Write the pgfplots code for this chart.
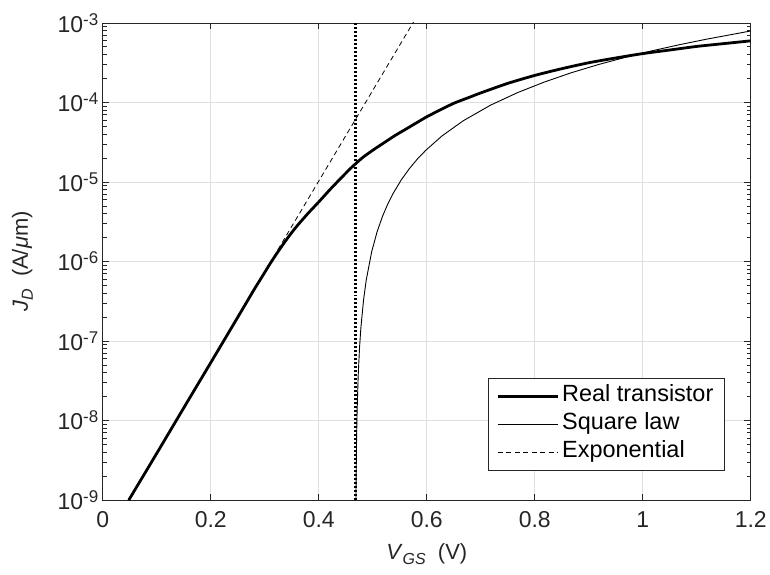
\documentclass[border=0pt]{standalone}
\usepackage{fontspec}
\setmainfont{Liberation Sans}
\usepackage{pgfplots}
\pgfplotsset{compat=1.18}
\definecolor{axgray}{RGB}{38,38,38}
\definecolor{gridgray}{RGB}{223,223,223}
\newcommand\sps[1]{\raisebox{7pt}{\fontsize{17}{17}\selectfont #1}}
\newcommand\sbs[1]{\raisebox{-5pt}{\fontsize{16}{16}\selectfont #1}}
\begin{document}
\begin{tikzpicture}
\begin{axis}[
  scale only axis, width=649pt, height=478pt,
  xmin=0, xmax=1.2, ymin=1e-9, ymax=1e-3, ymode=log,
  xtick={0,0.2,0.4,0.6,0.8,1,1.2},
  xticklabels={0,0.2,0.4,0.6,0.8,1,1.2},
  ytick={1e-9,1e-8,1e-7,1e-6,1e-5,1e-4,1e-3},
  yticklabels={10\sps{-9},10\sps{-8},10\sps{-7},10\sps{-6},10\sps{-5},10\sps{-4},10\sps{-3}},
  minor ytick={2e-9,3e-9,4e-9,5e-9,6e-9,7e-9,8e-9,9e-9,
    2e-8,3e-8,4e-8,5e-8,6e-8,7e-8,8e-8,9e-8,
    2e-7,3e-7,4e-7,5e-7,6e-7,7e-7,8e-7,9e-7,
    2e-6,3e-6,4e-6,5e-6,6e-6,7e-6,8e-6,9e-6,
    2e-5,3e-5,4e-5,5e-5,6e-5,7e-5,8e-5,9e-5,
    2e-4,3e-4,4e-4,5e-4,6e-4,7e-4,8e-4,9e-4},
  grid=major,
  major grid style={gridgray, line width=0.8pt},
  minor grid style={draw=none},
  axis line style={axgray, line width=0.9pt},
  tick style={axgray, line width=0.9pt},
  major tick length=6.5pt, minor tick length=4pt,
  tick label style={font=\fontsize{23}{27}\selectfont, text=axgray},
  xticklabel style={yshift=-8pt},
  yticklabel style={xshift=-1pt},
  xlabel={\textit{V}\sbs{\textit{GS}}\ \ (V)},
  ylabel={\textit{J}\sbs{\textit{D}}\ \ (A/\textit{μ}m)},
  label style={font=\fontsize{22}{26}\selectfont, text=axgray},
  xlabel style={at={(axis description cs:0.5,-0.125)}, anchor=base},
  ylabel style={at={(axis description cs:-0.1156,0.5)}, anchor=base},
  legend style={at={(0.96,0.061)}, anchor=south east, draw=axgray, line width=0.9pt,
    font=\fontsize{23.5}{27}\selectfont, inner xsep=8pt, inner ysep=7pt,
    row sep=6pt, nodes={inner xsep=3pt, inner ysep=0pt, text height=16pt, text depth=6pt}},
  legend cell align=left,
  legend image code/.code={\draw[#1] (0pt,0pt) -- (60pt,0pt);},
]
\addplot[black, line width=2.8pt, smooth, tension=0.4] coordinates {
(0.048,1.00e-9) (0.10,3.89e-9) (0.15,1.45e-8) (0.20,5.37e-8) (0.25,2.00e-7)
(0.28,4.42e-7) (0.29,5.69e-7) (0.30,7.33e-7) (0.31,9.44e-7) (0.32,1.20e-6)
(0.33,1.51e-6) (0.34,1.88e-6) (0.35,2.32e-6) (0.36,2.82e-6) (0.38,4.03e-6)
(0.40,5.62e-6) (0.42,7.94e-6) (0.44,1.10e-5) (0.46,1.51e-5) (0.48,2.00e-5)
(0.50,2.51e-5) (0.52,3.09e-5) (0.54,3.80e-5) (0.56,4.57e-5) (0.58,5.50e-5)
(0.60,6.61e-5) (0.62,7.76e-5) (0.65,9.77e-5) (0.68,1.17e-4) (0.70,1.32e-4)
(0.75,1.74e-4) (0.80,2.19e-4) (0.85,2.66e-4) (0.90,3.16e-4) (0.95,3.63e-4)
(1.00,4.12e-4) (1.05,4.57e-4) (1.10,5.07e-4) (1.15,5.50e-4) (1.20,5.96e-4)
};
\addlegendentry{Real transistor}
\addplot[black, line width=0.9pt] coordinates {
(0.46883,1.02e-9) (0.469,1.48e-9) (0.470,5.92e-9) (0.471,1.33e-8) (0.473,3.70e-8)
(0.4755,8.33e-8) (0.478,1.48e-7) (0.483,3.33e-7) (0.488,5.92e-7) (0.498,1.33e-6)
(0.508,2.37e-6) (0.518,3.70e-6) (0.528,5.33e-6) (0.538,7.25e-6) (0.553,1.07e-5)
(0.568,1.48e-5) (0.583,1.96e-5) (0.598,2.50e-5) (0.628,3.79e-5) (0.668,5.92e-5)
(0.718,9.25e-5) (0.768,1.33e-4) (0.818,1.81e-4) (0.868,2.37e-4) (0.918,3.00e-4)
(0.968,3.70e-4) (1.018,4.48e-4) (1.068,5.33e-4) (1.118,6.25e-4) (1.20,7.93e-4)
};
\addlegendentry{Square law}
\addplot[black, line width=0.8pt, dash pattern=on 5pt off 3.5pt] coordinates {
(0.30,7.46e-7) (0.58,1.16e-3)
};
\addlegendentry{Exponential}
\addplot[black, line width=2.2pt, dash pattern=on 2pt off 2pt, forget plot] coordinates {
(0.468,1e-9) (0.468,1e-3)
};
\end{axis}
\path ([xshift=-103pt,yshift=-74pt]current axis.south west) rectangle ([xshift=18pt,yshift=23pt]current axis.north east);
\end{tikzpicture}
\end{document}
